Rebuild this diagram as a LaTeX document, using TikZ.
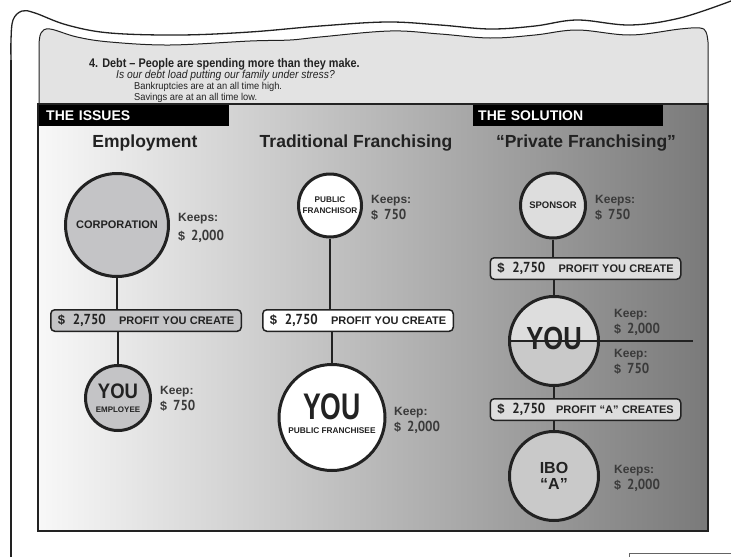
\documentclass[tikz,border=0pt]{standalone}
\usepackage{fontspec}
\setmainfont{Liberation Sans}
\newfontfamily\hand{PT Sans}
\definecolor{hdr}{HTML}{E3E3E3}
\definecolor{gA}{HTML}{C4C4C6}
\definecolor{gS}{HTML}{DDDDDD}
\definecolor{gS2}{HTML}{C9C9C9}
\definecolor{ink}{HTML}{222222}
\definecolor{txt}{HTML}{3A3A3A}
\definecolor{panL}{HTML}{F8F8F8}
\definecolor{panR}{HTML}{7A7A7A}
\newcommand\cond[2][0.8]{\scalebox{#1}[1]{#2}}
\newcommand\hn[1]{{\hand\bfseries\fontsize{14.5}{14.5}\selectfont\cond[0.9]{#1}}}
\newcommand\profittext[1]{\noindent{\fontsize{13}{13}\selectfont\$}\hspace{8pt}\hn{2,750}\hfill{\fontsize{11}{11}\selectfont #1}}
\newcommand\keeptext[2]{#1\\{\fontsize{12.5}{12.5}\selectfont\$}\hspace{6pt}\hn{#2}}
\begin{document}
\begin{tikzpicture}[x=1pt,y=-1pt,
  frame/.style={draw=ink, line width=1.3pt},
  circ/.style={circle, draw=ink, line width=3pt, inner sep=0pt, text=ink, align=center},
  conn/.style={draw=ink, line width=1.3pt},
  profit/.style={draw=ink, line width=1.5pt, rounded corners=4pt, minimum height=21.5pt, text width=176.5pt, inner xsep=7pt, inner ysep=0pt, align=left, font=\bfseries, text=ink},
  keep/.style={anchor=west, align=left, inner sep=0pt, text=txt, font=\fontsize{12}{16}\selectfont\bfseries},
  ttl/.style={font=\fontsize{17.5}{20}\selectfont\bfseries, text=ink, inner sep=0pt},
  bar/.style={fill=black, text=white, anchor=north west, minimum height=22pt, inner ysep=0pt, align=left, font=\fontsize{14}{14}\selectfont\bfseries},
  hdrtxt/.style={anchor=west, inner sep=0pt, text=ink},
  youtxt/.style={inner sep=0pt, text=ink, font=\bfseries}
]
\useasboundingbox (0,0) rectangle (731,557);
% outer page frame
\draw[frame] (11,557) -- (11,60);
\draw[frame] plot[smooth,tension=0.6] coordinates {(11,60) (11,40) (13,20) (22,11) (35,13) (67,25) (110,33) (180,35) (250,32) (320,26) (387,22) (440,25) (490,29) (535,26) (577,20) (630,25) (680,18) (731,1)};
% header area
\filldraw[fill=hdr, draw=ink, line width=1pt] (39,104) -- plot[smooth,tension=0.6] coordinates {(39,45) (41,33) (50,29) (77,37) (110,42) (170,45) (250,41) (290,40) (320,37) (390,31) (440,34) (490,38) (535,35) (577,30) (630,35) (680,29) (700,28) (706,32) (708,42)} -- (708,104) -- cycle;
\node[hdrtxt, font=\fontsize{12.5}{12.5}\selectfont\bfseries] (h1) at (89,64) {\cond[0.87]{4. Debt – People are spending more than they make.}};
\node[hdrtxt, font=\fontsize{11.5}{11.5}\selectfont\itshape] (h2) at (116,76) {\cond[0.9]{Is our debt load putting our family under stress?}};
\node[hdrtxt, font=\fontsize{10}{10}\selectfont] (h3) at (134,87) {\cond[0.93]{Bankruptcies are at an all time high.}};
\node[hdrtxt, font=\fontsize{10}{10}\selectfont] (h4) at (134,97.5) {\cond[0.93]{Savings are at an all time low.}};
% panel
\shade[left color=panL, right color=panR] (38,104) rectangle (708,531);
\node[bar, text width=175pt, inner xsep=8pt] (issues) at (38,104) {THE ISSUES};
\node[bar, text width=180pt, inner xsep=5pt] (solution) at (473,104) {THE SOLUTION};
\draw[draw=ink, line width=2pt] (38,104) rectangle (708,531);
% titles
\node[ttl] (t1) at (145,143) {Employment};
\node[ttl] (t2) at (356,143) {Traditional Franchising};
\node[ttl] (t3) at (586,143) {“Private Franchising”};
% employment column
\node[circ, fill=gA, minimum size=103pt, font=\fontsize{11}{11}\selectfont\bfseries] (corp) at (117,225) {CORPORATION};
\node[profit, fill=gA] (box1) at (146,320.5) {\profittext{PROFIT YOU CREATE}};
\node[circ, fill=gA, minimum size=65pt] (you1) at (118,398) {};
\node[youtxt, font=\fontsize{21}{21}\selectfont\bfseries] (you1a) at (118,391) {\cond[0.88]{YOU}};
\node[youtxt, font=\fontsize{8}{8}\selectfont\bfseries] (you1b) at (118,409.5) {EMPLOYEE};
\draw[conn] (corp.south) -- (corp.south |- box1.north);
\draw[conn] (you1.north |- box1.south) -- (you1.north);
\node[keep, font=\fontsize{12}{19}\selectfont\bfseries] (k1) at (178,227.5) {\keeptext{Keeps:}{2,000}};
\node[keep] (k2) at (160,398.5) {\keeptext{Keep:}{750}};
% traditional franchising column
\node[circ, fill=white, minimum size=63pt, font=\fontsize{8.2}{11}\selectfont\bfseries] (fr) at (330,205.5) {PUBLIC\\FRANCHISOR};
\node[profit, fill=white] (box2) at (358,320.5) {\profittext{PROFIT YOU CREATE}};
\node[circ, fill=white, minimum size=106pt] (you2) at (332,417.5) {};
\node[youtxt, font=\fontsize{37}{37}\selectfont\bfseries] (you2a) at (332,406.5) {\cond[0.72]{YOU}};
\node[youtxt, font=\fontsize{8.3}{8.3}\selectfont\bfseries] (you2b) at (332,431) {PUBLIC FRANCHISEE};
\draw[conn] (fr.south) -- (fr.south |- box2.north);
\draw[conn] (you2.north |- box2.south) -- (you2.north);
\node[keep] (k3) at (371,207.5) {\keeptext{Keeps:}{750}};
\node[keep] (k4) at (394,420) {\keeptext{Keep:}{2,000}};
% private franchising column
\node[circ, fill=gS, minimum size=65pt, font=\fontsize{9.5}{9.5}\selectfont\bfseries] (sp) at (553,205.5) {SPONSOR};
\node[profit, fill=gS] (box3) at (585.5,268.5) {\profittext{PROFIT YOU CREATE}};
\node[circ, fill=gS2, minimum size=89pt, path picture={\fill[gS] (path picture bounding box.west) rectangle (path picture bounding box.north east);}] (you3) at (554,341) {};
\node[youtxt, font=\fontsize{32}{32}\selectfont\bfseries] (you3a) at (554,338) {\cond[0.8]{YOU}};
\coordinate (kend) at (693,341);
\draw[conn] (you3.west) -- (kend);
\node[profit, fill=gS] (box4) at (585.5,409.5) {\profittext{PROFIT “A” CREATES}};
\node[circ, fill=gS2, minimum size=89pt, font=\fontsize{16}{15.5}\selectfont\bfseries] (ibo) at (554,476) {IBO\\“A”};
\draw[conn] (sp.south) -- (sp.south |- box3.north);
\draw[conn] (you3.north |- box3.south) -- (you3.north);
\draw[conn] (you3.south) -- (you3.south |- box4.north);
\draw[conn] (ibo.north |- box4.south) -- (ibo.north);
\node[keep] (k5) at (595,208) {\keeptext{Keeps:}{750}};
\node[keep] (k6) at (614,322) {\keeptext{Keep:}{2,000}};
\node[keep] (k7) at (614,361.5) {\keeptext{Keep:}{750}};
\node[keep] (k8) at (614,478) {\keeptext{Keeps:}{2,000}};
% small box at bottom right
\draw[draw=ink!70, line width=1pt] (629,557) -- (629,553) -- (731,553);
\end{tikzpicture}
\end{document}
